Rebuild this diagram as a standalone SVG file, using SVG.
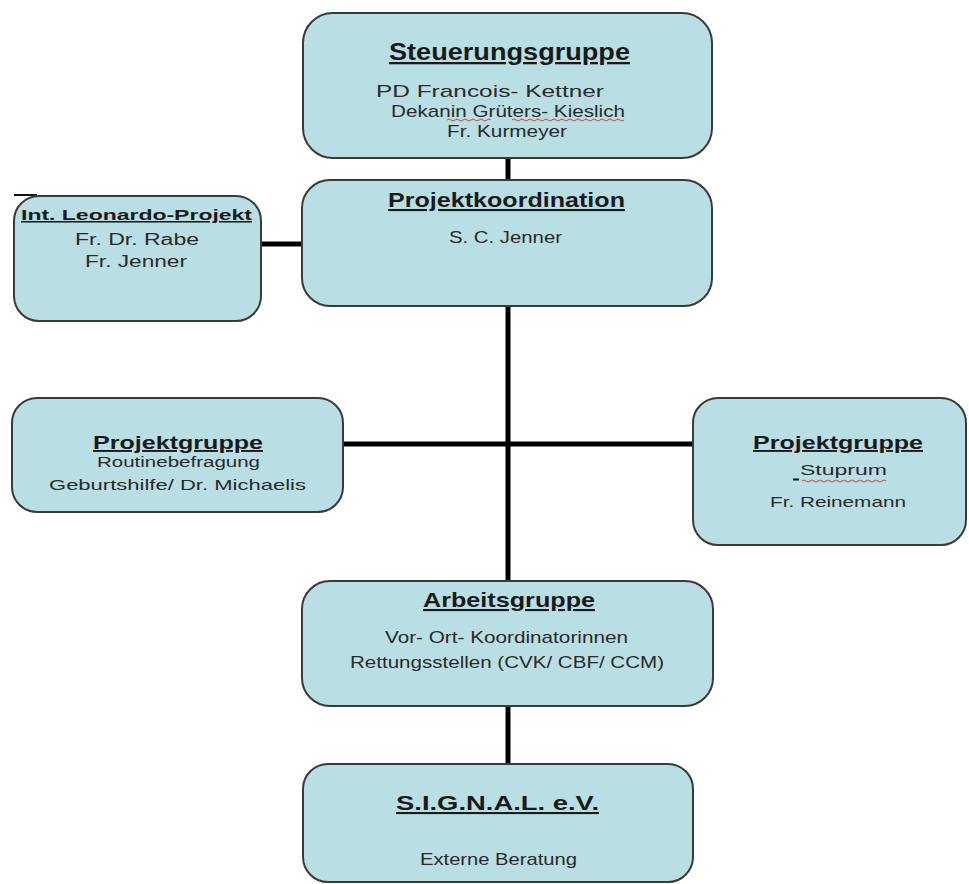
<svg xmlns="http://www.w3.org/2000/svg" width="969" height="884" viewBox="0 0 969 884">
<style>
.box{fill:#b9dfe4;stroke:#3a3a3a;stroke-width:2}
.t{font-family:"Liberation Sans",Arial,sans-serif;font-weight:bold;fill:#1a1a1a;text-anchor:start;text-decoration:underline}
.s{font-family:"Liberation Sans",Arial,sans-serif;fill:#2a2a2a;text-anchor:start}
.c{stroke:#000;stroke-width:5;fill:none}
.w{stroke:#d04040;stroke-width:1;fill:none}
</style>
<rect width="969" height="884" fill="#fff"/>
<g id="connectors">
<line class="c" x1="508" y1="158" x2="508" y2="180"/>
<line class="c" x1="261" y1="244" x2="302" y2="244"/>
<line class="c" x1="508" y1="306" x2="508" y2="581"/>
<line class="c" x1="343" y1="444" x2="693" y2="444"/>
<line class="c" x1="508" y1="706" x2="508" y2="764"/>
</g>
<g id="steuerungsgruppe">
<rect class="box" x="303" y="13" width="409" height="145" rx="30"/>
<text class="t" x="389" y="60" font-size="23" textLength="241" lengthAdjust="spacingAndGlyphs">Steuerungsgruppe</text>
<text class="s" x="376" y="97" font-size="17" textLength="228" lengthAdjust="spacingAndGlyphs">PD Francois- Kettner</text>
<text class="s" x="391" y="117" font-size="17" textLength="234" lengthAdjust="spacingAndGlyphs">Dekanin Grüters- Kieslich</text>
<path class="w" d="M447 120 q2 -2 4 0 t4 0 t4 0 t4 0 t4 0 t4 0 t4 0 t4 0 t4 0 t4 0 t4 0 M512 120 q2 -2 4 0 t4 0 t4 0 t4 0 t4 0 t4 0 t4 0 t4 0 t4 0 t4 0 t4 0 t4 0 t4 0 t4 0 t4 0 t4 0 t4 0 t4 0 t4 0 t4 0 t4 0 t4 0 t4 0 t4 0 t4 0 t4 0 t4 0 t4 0"/>
<text class="s" x="447" y="137" font-size="17" textLength="120" lengthAdjust="spacingAndGlyphs">Fr. Kurmeyer</text>
</g>
<g id="projektkoordination">
<rect class="box" x="302" y="180" width="410" height="126" rx="28"/>
<text class="t" x="388" y="207" font-size="21" textLength="237" lengthAdjust="spacingAndGlyphs">Projektkoordination</text>
<text class="s" x="449" y="243" font-size="17" textLength="113" lengthAdjust="spacingAndGlyphs">S. C. Jenner</text>
</g>
<g id="leonardo">
<line x1="14" y1="195" x2="37" y2="195" stroke="#111" stroke-width="2"/>
<rect class="box" x="14" y="196" width="247" height="125" rx="25"/>
<text class="t" x="21" y="220" font-size="15.5" textLength="231" lengthAdjust="spacingAndGlyphs">Int. Leonardo-Projekt</text>
<text class="s" x="75" y="245" font-size="16" textLength="124" lengthAdjust="spacingAndGlyphs">Fr. Dr. Rabe</text>
<text class="s" x="85" y="267" font-size="16" textLength="102" lengthAdjust="spacingAndGlyphs">Fr. Jenner</text>
</g>
<g id="projektgruppe-links">
<rect class="box" x="12" y="398" width="331" height="114" rx="25"/>
<text class="t" x="93" y="449" font-size="19" textLength="170" lengthAdjust="spacingAndGlyphs">Projektgruppe</text>
<text class="s" x="97" y="467" font-size="14" textLength="163" lengthAdjust="spacingAndGlyphs">Routinebefragung</text>
<text class="s" x="49" y="490" font-size="15" textLength="257" lengthAdjust="spacingAndGlyphs">Geburtshilfe/ Dr. Michaelis</text>
</g>
<g id="projektgruppe-rechts">
<rect class="box" x="693" y="398" width="273" height="147" rx="25"/>
<text class="t" x="753" y="449" font-size="19" textLength="170" lengthAdjust="spacingAndGlyphs">Projektgruppe</text>
<line x1="793" y1="479.5" x2="799" y2="479.5" stroke="#111" stroke-width="2"/>
<text class="s" x="800" y="475" font-size="15" textLength="87" lengthAdjust="spacingAndGlyphs">Stuprum</text>
<path class="w" d="M802 481 q2 -2 4 0 t4 0 t4 0 t4 0 t4 0 t4 0 t4 0 t4 0 t4 0 t4 0 t4 0 t4 0 t4 0 t4 0 t4 0 t4 0 t4 0 t4 0 t4 0 t4 0 t4 0"/>
<text class="s" x="770" y="507" font-size="15" textLength="136" lengthAdjust="spacingAndGlyphs">Fr. Reinemann</text>
</g>
<g id="arbeitsgruppe">
<rect class="box" x="302" y="581" width="411" height="125" rx="28"/>
<text class="t" x="423" y="607" font-size="21" textLength="172" lengthAdjust="spacingAndGlyphs">Arbeitsgruppe</text>
<text class="s" x="385" y="643" font-size="17" textLength="243" lengthAdjust="spacingAndGlyphs">Vor- Ort- Koordinatorinnen</text>
<text class="s" x="350" y="668" font-size="17" textLength="314" lengthAdjust="spacingAndGlyphs">Rettungsstellen (CVK/ CBF/ CCM)</text>
</g>
<g id="signal">
<rect class="box" x="303" y="764" width="390" height="118" rx="25"/>
<text class="t" x="396" y="810" font-size="21" textLength="203" lengthAdjust="spacingAndGlyphs">S.I.G.N.A.L. e.V.</text>
<text class="s" x="420" y="865" font-size="17" textLength="157" lengthAdjust="spacingAndGlyphs">Externe Beratung</text>
</g>
</svg>
